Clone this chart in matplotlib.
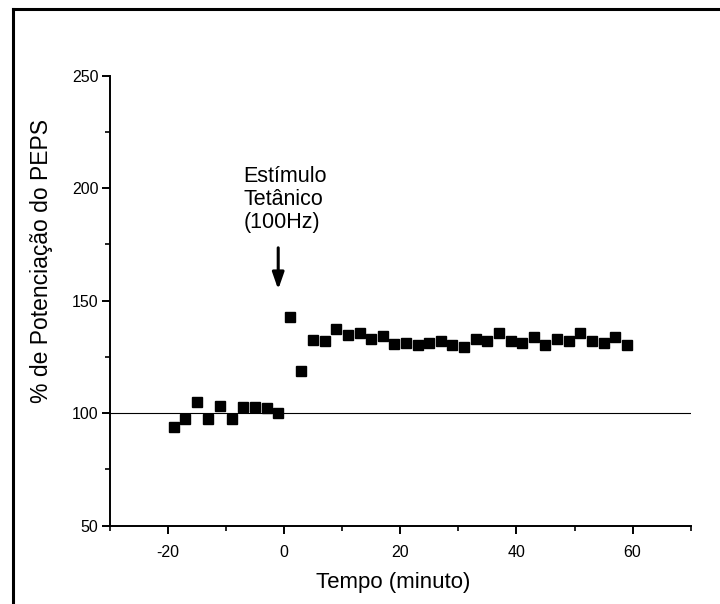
"""
plot.py

LTP recording: % potentiation of the EPSP before and after tetanic stimulus.
Output: out.png
"""

import matplotlib
matplotlib.use("Agg")
import matplotlib.pyplot as plt
from matplotlib.ticker import MultipleLocator
from matplotlib.lines import Line2D


# time in minutes (one point every 2 min)
tempo = [-19, -17, -15, -13, -11, -9, -7, -5, -3, -1,
         1, 3, 5, 7, 9, 11, 13, 15, 17, 19,
         21, 23, 25, 27, 29, 31, 33, 35, 37, 39,
         41, 43, 45, 47, 49, 51, 53, 55, 57, 59]

potenciacao = [93.7, 97.3, 104.8, 97.3, 103.2, 97.3, 102.6, 102.6, 102.1, 100.2,
               142.6, 118.9, 132.5, 132.0, 137.6, 134.9, 135.5, 133.0, 134.3, 130.8,
               131.3, 130.2, 131.3, 132.0, 130.2, 129.6, 133.1, 132.0, 135.5, 132.0,
               131.3, 133.7, 130.2, 133.1, 132.0, 135.5, 132.0, 131.3, 133.7, 130.2]

baseline = 100
estimulo_x = -1
estimulo_label = "Estímulo\nTetânico\n(100Hz)"


def main() -> None:
    plt.rcParams["font.family"] = ["Liberation Sans", "DejaVu Sans"]
    plt.rcParams["axes.unicode_minus"] = False

    fig = plt.figure(figsize=(7.2, 6.04), dpi=100)
    ax = fig.add_axes([0.1524, 0.1296, 0.9593 - 0.1524, 0.8747 - 0.1296])

    ax.axhline(baseline, color="black", lw=0.8, zorder=1)
    ax.plot(tempo, potenciacao, ls="none", marker="s", ms=7.8,
            color="black", mec="black", zorder=3)

    ax.annotate("", xy=(estimulo_x, 155), xytext=(estimulo_x, 173.5),
                arrowprops=dict(arrowstyle="-|>,head_length=1.0,head_width=0.35",
                                color="black", lw=2.2, shrinkA=0, shrinkB=0))
    ax.text(-7, 210, estimulo_label, ha="left", va="top", multialignment="left",
            fontsize=15.5, linespacing=1.15)

    ax.set_xlim(-30, 70)
    ax.set_ylim(50, 250)
    ax.xaxis.set_major_locator(MultipleLocator(20))
    ax.xaxis.set_minor_locator(MultipleLocator(10))
    ax.yaxis.set_major_locator(MultipleLocator(50))
    ax.yaxis.set_minor_locator(MultipleLocator(25))

    for side in ("top", "right"):
        ax.spines[side].set_visible(False)
    for side in ("left", "bottom"):
        ax.spines[side].set_linewidth(1.4)

    ax.tick_params(which="major", direction="out", length=6, width=1.4,
                   labelsize=11.5)
    ax.tick_params(which="minor", direction="out", length=3.5, width=1.2)
    ax.tick_params(axis="x", which="major", pad=8)
    ax.tick_params(axis="y", which="major", pad=2)

    ax.set_xlabel("Tempo (minuto)", fontsize=16)
    ax.set_ylabel("% de Potenciação do PEPS", fontsize=16.5)
    ax.xaxis.set_label_coords(0.488, -0.102)
    ax.yaxis.set_label_coords(-0.098, 0.588)

    # outer frame (left and top edges only, like the original figure)
    lw_px = 2.2
    fig.add_artist(Line2D([13 / 720, 13 / 720], [0, 1 - 9 / 604],
                          transform=fig.transFigure, color="black", lw=lw_px))
    fig.add_artist(Line2D([13 / 720, 1], [1 - 9 / 604, 1 - 9 / 604],
                          transform=fig.transFigure, color="black", lw=lw_px))

    fig.savefig("out.png", dpi=100)
    plt.close(fig)


if __name__ == "__main__":
    main()
